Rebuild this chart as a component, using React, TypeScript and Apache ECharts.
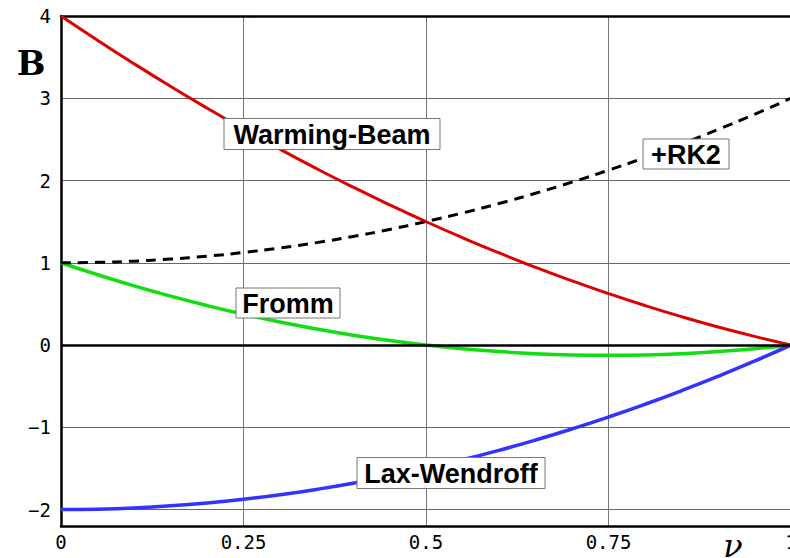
import React, { useEffect, useRef } from "react";
import * as echarts from "echarts";

const NU = [0, 0.05, 0.1, 0.15, 0.2, 0.25, 0.3, 0.35, 0.4, 0.45, 0.5, 0.55, 0.6, 0.65, 0.7, 0.75, 0.8, 0.85, 0.9, 0.95, 1];
const WARMING_BEAM = [4, 3.705, 3.42, 3.145, 2.88, 2.625, 2.38, 2.145, 1.92, 1.705, 1.5, 1.305, 1.12, 0.945, 0.78, 0.625, 0.48, 0.345, 0.22, 0.105, 0];
const FROMM = [1, 0.855, 0.72, 0.595, 0.48, 0.375, 0.28, 0.195, 0.12, 0.055, 0, -0.045, -0.08, -0.105, -0.12, -0.125, -0.12, -0.105, -0.08, -0.045, 0];
const LAX_WENDROFF = [-2, -1.995, -1.98, -1.955, -1.92, -1.875, -1.82, -1.755, -1.68, -1.595, -1.5, -1.395, -1.28, -1.155, -1.02, -0.875, -0.72, -0.555, -0.38, -0.195, 0];
const RK2 = [1, 1.005, 1.02, 1.045, 1.08, 1.125, 1.18, 1.245, 1.32, 1.405, 1.5, 1.605, 1.72, 1.845, 1.98, 2.125, 2.28, 2.445, 2.62, 2.805, 3];
const Y_TICKS = [-2, -1, 0, 1, 2, 3, 4];
const X_TICKS = [0, 0.25, 0.5, 0.75, 1];

const TICK_FONT = "DejaVu Sans Mono";
const BOX_FONT = "bold 27px 'Liberation Sans', Arial, sans-serif";

function pts(ys: number[]) {
  return NU.map((x, i) => [x, ys[i]]);
}

function box(text: string, cx: number, cy: number, w: number, h: number) {
  return {
    type: "group",
    z: 100,
    children: [
      {
        type: "rect",
        z: 100,
        shape: { x: cx - w / 2, y: cy - h / 2, width: w, height: h },
        style: { fill: "#ffffff", stroke: "#777777", lineWidth: 1 },
      },
      {
        type: "text",
        z: 101,
        x: cx,
        y: cy + 1,
        style: { text, font: BOX_FONT, fill: "#000000", align: "center", verticalAlign: "middle" },
      },
    ],
  };
}

export default function App() {
  const ref = useRef<HTMLDivElement>(null);
  useEffect(() => {
    if (!ref.current) return;
    const chart = echarts.init(ref.current, undefined, { renderer: "svg" });
    const lineSeries = (name: string, ys: number[], color: string, width: number, type: any = "solid") => ({
      name,
      type: "line",
      data: pts(ys),
      showSymbol: false,
      symbol: "none",
      smooth: true,
      lineStyle: { color, width, type },
      silent: true,
    });
    chart.setOption({
      animation: false,
      backgroundColor: "#ffffff",
      grid: { left: 61, right: -1, top: 16, bottom: 32, containLabel: false, outerBoundsMode: "none" },
      xAxis: [
        {
          type: "value",
          min: 0,
          max: 1,
          interval: 0.25,
          position: "bottom",
          axisLine: { onZero: false, lineStyle: { color: "#000", width: 2.5 } },
          axisTick: { show: false },
          axisLabel: {
            margin: 6,
            color: "#000",
            fontFamily: TICK_FONT,
            fontSize: 19,
            showMinLabel: true,
            showMaxLabel: true,
            hideOverlap: false,
            formatter: (v: number) => (X_TICKS.includes(v) ? String(v) : ""),
          },
          splitLine: { show: true, lineStyle: { color: "#777", width: 1 } },
        },
        {
          type: "value",
          min: 0,
          max: 1,
          position: "top",
          axisLine: { onZero: false, lineStyle: { color: "#000", width: 2.5 } },
          axisTick: { show: false },
          axisLabel: { show: false },
          splitLine: { show: false },
        },
      ],
      yAxis: {
        type: "value",
        min: -2.2,
        max: 4,
        axisLine: { show: true, onZero: false, lineStyle: { color: "#000", width: 2.5 } },
        axisTick: { show: false, customValues: Y_TICKS },
        axisLabel: {
          customValues: Y_TICKS,
          margin: 10,
          align: "right",
          color: "#000",
          fontFamily: TICK_FONT,
          fontSize: 19,
          formatter: (v: number) => (v < 0 ? "\u2212" + Math.abs(v) : String(v)),
        },
        splitLine: { show: true, lineStyle: { color: "#666", width: 1 } },
      },
      series: [
        {
          ...lineSeries("Fromm", FROMM, "#11dd11", 3.5),
          markLine: {
            silent: true,
            symbol: "none",
            label: { show: false },
            lineStyle: { color: "#000", width: 2.5, type: "solid" },
            data: [{ yAxis: 0 }],
          },
        },
        lineSeries("Warming-Beam", WARMING_BEAM, "#dd0000", 3),
        lineSeries("Lax-Wendroff", LAX_WENDROFF, "#3333ff", 3.5),
        lineSeries("+RK2", RK2, "#000000", 3, [10, 7]),
      ],
      graphic: [
        box("Warming-Beam", 332, 134, 216, 31),
        box("+RK2", 686, 154, 86, 30),
        box("Fromm", 288, 303, 104, 30),
        box("Lax-Wendroff", 451, 473, 188, 31),
        {
          type: "text",
          z: 100,
          x: 31,
          y: 63,
          style: { text: "B", font: "bold 34px 'DejaVu Serif', serif", fill: "#000", align: "center", verticalAlign: "middle" },
        },
        {
          type: "text",
          z: 100,
          x: 733,
          y: 546,
          style: { text: "\u03bd", font: "italic 32px 'DejaVu Serif', serif", fill: "#000", align: "center", verticalAlign: "middle" },
        },
      ],
    });
    return () => chart.dispose();
  }, []);
  return <div ref={ref} style={{ width: 790, height: 558, position: "absolute", left: 0, top: 0 }} />;
}
